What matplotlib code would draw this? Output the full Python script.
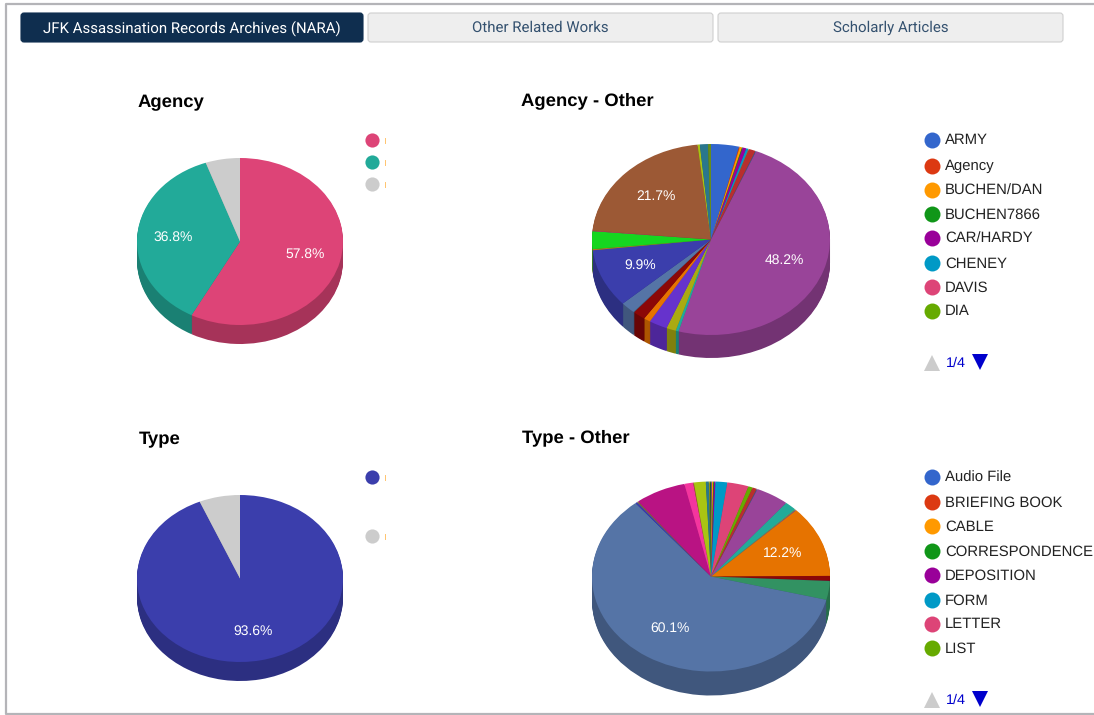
#!/usr/bin/env python3
import matplotlib
matplotlib.use("Agg")
import matplotlib.pyplot as plt
from matplotlib.colors import to_rgb
from matplotlib.patches import FancyBboxPatch

plt.rcParams["text.hinting"] = "no_hinting"

W, H = 1094, 715

# colors
c_pink = "#dd4477"
c_teal = "#22aa99"
c_grey = "#cccccc"
c_blue = "#3b3eac"

palette = ["#3366cc", "#dc3912", "#ff9900", "#109618", "#990099", "#0099c6", "#dd4477",
           "#66aa00", "#b82e2e", "#316395", "#994499", "#22aa99", "#aaaa11", "#6633cc",
           "#e67300", "#8b0707", "#651067", "#329262", "#5574a6", "#3b3eac", "#b77322",
           "#16d620", "#b91383", "#f4359e", "#9c5935", "#a9c413", "#2a778d", "#668d1c",
           "#bea413", "#0c5922"]

# data
tabs = ["JFK Assassination Records Archives (NARA)", "Other Related Works", "Scholarly Articles"]

agency_vals = [57.8, 36.8, 5.4]
type_vals = [93.6, 6.4]

agency_other_vals = [3.8, 0.1, 0.3, 0.1, 0.5, 0.3, 0.05, 0.05, 0.9, 0.1, 48.2, 0.4, 1.3, 2.5,
                     0.9, 1.7, 0.05, 0.05, 2.0, 9.9, 0.2, 3.0, 0.05, 0.05, 21.7, 0.3, 1.1, 0.4]
type_other_vals = [0.1, 0.05, 0.15, 0.1, 0.2, 1.6, 2.9, 0.6, 0.6, 0.1, 4.5, 1.6, 0.1, 0.1,
                   12.2, 0.8, 0.05, 3.2, 60.1, 0.3, 0.1, 0.05, 6.9, 1.2, 0.1, 1.6, 0.4, 0.1,
                   0.1, 0.1]

agency_other_legend = ["ARMY", "Agency", "BUCHEN/DAN", "BUCHEN7866", "CAR/HARDY", "CHENEY", "DAVIS", "DIA"]
type_other_legend = ["Audio File", "BRIEFING BOOK", "CABLE", "CORRESPONDENCE", "DEPOSITION", "FORM", "LETTER", "LIST"]

fig = plt.figure(figsize=(W / 100, H / 100), dpi=100, facecolor="white")

# whole figure in pixels, y going down
bg = fig.add_axes([0, 0, 1, 1])
bg.set_xlim(0, W)
bg.set_ylim(H, 0)
bg.axis("off")


def darker(c):
    r, g, b = to_rgb(c)
    return (r * 0.75, g * 0.75, b * 0.75)


def show_pct(p):
    # the small slices carry no label in the original
    return f"{p:.1f}%" if p > 9 else ""


def pie3d(vals, colors, cx, cy, rx, ry, depth):
    ax = fig.add_axes([(cx - rx - 2) / W, (H - cy - ry - depth - 2) / H,
                       (2 * rx + 4) / W, (2 * ry + depth + 4) / H])
    dark = [darker(c) for c in colors]
    for k in range(depth, 0, -1):
        ax.pie(vals, colors=dark, center=(0, -k / ry), startangle=90, counterclock=False,
               wedgeprops={"linewidth": 0})
    ax.pie(vals, colors=colors, startangle=90, counterclock=False, autopct=show_pct, pctdistance=0.65,
           wedgeprops={"linewidth": 0},
           textprops={"color": "white", "fontsize": 10, "family": "Liberation Sans"})
    ax.set_aspect("auto")
    ax.set_xlim(-1 - 2 / rx, 1 + 2 / rx)
    ax.set_ylim(-1 - (depth + 2) / ry, 1 + 2 / ry)
    ax.patch.set_alpha(0)


# frame
bg.plot([1094, 6, 6, 1094], [4, 4, 713.5, 713.5], color="#b4b4b8", lw=1.6)

# tabs
tab_x = [(21, 363), (368, 713), (718, 1063)]
for i, (x0, x1) in enumerate(tab_x):
    active = i == 0
    bg.add_patch(FancyBboxPatch((x0 + 2, 15), x1 - x0 - 4, 25, boxstyle="round,pad=2,rounding_size=3",
                                fc="#0f2e4f" if active else "#eeeeee",
                                ec="#0f2e4f" if active else "#cfcfcf", lw=0.8))
    bg.text((x0 + x1) / 2, 28, tabs[i], ha="center", va="center", fontsize=10.8, family="Roboto",
            color="white" if active else "#34516f")

# titles
for txt, x, y in [("Agency", 138, 103), ("Agency - Other", 521, 101), ("Type", 139, 440), ("Type - Other", 522, 438)]:
    bg.text(x, y, txt, ha="left", va="center", fontsize=13.3, fontweight="bold", family="Liberation Sans", color="black")

pie3d(agency_vals, [c_pink, c_teal, c_grey], 240, 241.5, 103, 83.5, 19)
pie3d(agency_other_vals, palette[:len(agency_other_vals)], 711, 239.5, 119, 95.5, 23)
pie3d(type_vals, [c_blue, c_grey], 240, 578.5, 103, 83.5, 19)
pie3d(type_other_vals, palette[:len(type_other_vals)], 711, 576.5, 119, 95, 24)

# left legends, labels cut off in the original
for y, c in [(140, c_pink), (162, c_teal), (184, c_grey), (477, c_blue), (536, c_grey)]:
    bg.plot(371.5, y, "o", ms=10.2, color=c, mew=0)
    bg.plot([384.5, 384.5], [y - 2.5, y + 2.5], color="#ffc46e", lw=0.7)

# right legends
leg_colors = palette[:8]
ys_top = [140, 166, 190, 214, 238, 263, 287, 311]
ys_bot = [477, 502, 526, 551, 575, 600, 624, 648]
for names, ys in [(agency_other_legend, ys_top), (type_other_legend, ys_bot)]:
    for name, y, c in zip(names, ys, leg_colors):
        bg.plot(932, y, "o", ms=11.5, color=c, mew=0)
        bg.text(945, y + 0.5, name, ha="left", va="center", fontsize=10.7, family="Liberation Sans", color="#222222")

# pagers
for y in [363, 700]:
    bg.plot(932, y, "^", ms=11, color="#cccccc", mew=0)
    bg.plot(980, y - 1, "v", ms=11, color="#0000cc", mew=0)
    bg.text(946, y + 0.5, "1/4", ha="left", va="center", fontsize=10.4, family="Liberation Sans", color="#0000cc")

fig.savefig("out.png", dpi=100)
